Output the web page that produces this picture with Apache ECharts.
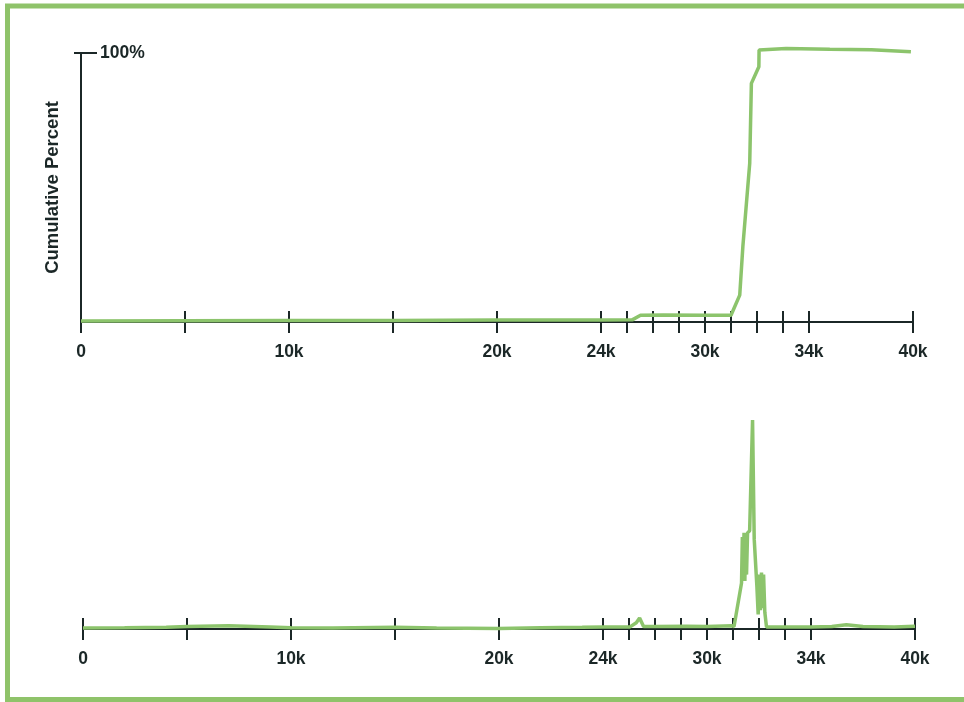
<!DOCTYPE html>
<html>
<head>
<meta charset="utf-8">
<script src="https://cdn.jsdelivr.net/npm/echarts@6/dist/echarts.min.js"></script>
<style>
html,body{margin:0;padding:0;background:#fff;}
#chart{width:964px;height:702px;}
</style>
</head>
<body>
<div id="chart"></div>
<script>
// Axis positions (axis units) and their printed tick labels
const tickPositions = [0, 5, 10, 15, 20, 25, 26.25, 27.5, 28.75, 30, 31.25, 32.5, 33.75, 35, 40];
const labelPositions = [0, 10, 20, 25, 30, 35, 40];
const labelTexts = ['0', '10k', '20k', '24k', '30k', '34k', '40k'];
const yAxisTitle = 'Cumulative Percent';
const yTopLabel = '100%';

// Top panel: cumulative percent  [x position, percent]
const cumulativeX = [0, 5, 10, 15, 20, 25, 26.5, 26.9, 28, 30, 31.25, 31.67, 31.82, 32.15, 32.23, 32.59, 32.6, 33.9, 36, 38, 39.9];
const cumulativeY = [0.4, 0.5, 0.6, 0.6, 0.7, 0.7, 0.8, 2.5, 2.6, 2.5, 2.5, 10, 28, 59, 88.7, 94.9, 101.1, 101.7, 101.4, 101.2, 100.5];

// Bottom panel: distribution  [x position, relative value]
const densityX = [0, 2, 4, 5, 7, 9, 10, 12, 15, 17, 20, 22, 24, 25, 26.3, 26.6, 26.76, 26.95, 27.5, 29, 30, 31.2, 31.3, 31.66, 31.7, 31.74, 31.78, 31.82, 31.86, 31.9, 31.95, 32.05, 32.19, 32.27, 32.4, 32.46, 32.52, 32.57, 32.62, 32.67, 32.72, 32.78, 32.86, 33.5, 35, 36, 36.7, 37.5, 39, 40];
const densityY = [0.5, 0.6, 0.8, 1.2, 1.5, 1.0, 0.6, 0.5, 0.8, 0.5, 0.2, 0.6, 0.8, 1.0, 1.0, 3, 5.3, 1.2, 1.2, 1.3, 1.2, 1.5, 1.2, 22, 44, 24, 46, 23, 45, 26, 46, 47, 100, 43, 20, 7, 26, 9, 27, 10, 26, 8, 1, 1, 1, 1.2, 2, 1.2, 1, 1.3];

const GREEN = '#8cc46c';
const INK = '#1b2727';
const FONT = 'Liberation Sans, Arial, sans-serif';

const zip = (xs, ys) => xs.map((x, i) => [x, ys[i]]);
const labelFor = v => { const i = labelPositions.indexOf(v); return i >= 0 ? labelTexts[i] : ''; };

function xAxesFor(gridIndex) {
  return [
    {
      type: 'value', gridIndex, position: 'bottom', min: 0, max: 40,
      axisLine: { show: true, onZero: false, lineStyle: { color: INK, width: 2 } },
      axisTick: { show: true, inside: false, length: 11, customValues: tickPositions, lineStyle: { color: INK, width: 2 } },
      axisLabel: { show: true, customValues: labelPositions, formatter: labelFor, margin: 21,
        color: INK, fontFamily: FONT, fontWeight: 'bold', fontSize: 17.5 },
      splitLine: { show: false }
    },
    {
      type: 'value', gridIndex, position: 'bottom', min: 0, max: 40,
      axisLine: { show: false, onZero: false },
      axisTick: { show: true, inside: true, length: 11, customValues: tickPositions, lineStyle: { color: INK, width: 2 } },
      axisLabel: { show: false },
      splitLine: { show: false }
    }
  ];
}

const chart = echarts.init(document.getElementById('chart'));
chart.setOption({
  backgroundColor: '#ffffff',
  animation: false,
  graphic: [{
    type: 'rect', z: 100, silent: true,
    shape: { x: 7.5, y: 6, width: 980, height: 693.5 },
    style: { fill: 'none', stroke: '#8fc36a', lineWidth: 5 }
  }],
  grid: [
    { left: 81, right: 51, top: 53, bottom: 380 },
    { left: 83, right: 49, top: 420, bottom: 73 }
  ],
  xAxis: [...xAxesFor(0), ...xAxesFor(1)],
  yAxis: [
    {
      type: 'value', gridIndex: 0, position: 'left', min: 0, max: 100,
      name: yAxisTitle, nameLocation: 'middle', nameGap: 19, nameRotate: 90,
      nameTextStyle: { color: INK, fontFamily: FONT, fontWeight: 'bold', fontSize: 18.5 },
      axisLine: { show: true, lineStyle: { color: INK, width: 2 } },
      axisTick: { show: true, inside: false, length: 7, customValues: [100], lineStyle: { color: INK, width: 2 } },
      axisLabel: { show: true, inside: true, margin: 19, customValues: [100], formatter: () => yTopLabel,
        color: INK, fontFamily: FONT, fontWeight: 'bold', fontSize: 17.5 },
      splitLine: { show: false }
    },
    {
      type: 'value', gridIndex: 0, position: 'left', min: 0, max: 100,
      axisLine: { show: false },
      axisTick: { show: true, inside: true, length: 16, customValues: [100], lineStyle: { color: INK, width: 2 } },
      axisLabel: { show: false },
      splitLine: { show: false }
    },
    {
      type: 'value', gridIndex: 1, min: 0, max: 100, show: false
    }
  ],
  series: [
    {
      type: 'line', xAxisIndex: 0, yAxisIndex: 0, showSymbol: false, symbol: 'none', clip: false,
      data: zip(cumulativeX, cumulativeY),
      lineStyle: { color: GREEN, width: 3.5 }
    },
    {
      type: 'line', xAxisIndex: 2, yAxisIndex: 2, showSymbol: false, symbol: 'none', clip: false,
      data: zip(densityX, densityY),
      lineStyle: { color: GREEN, width: 3.5 }
    }
  ]
});
</script>
</body>
</html>
